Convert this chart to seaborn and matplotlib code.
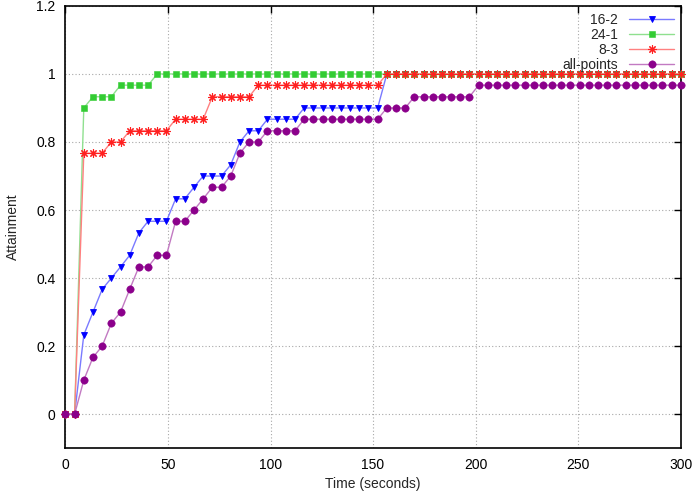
import matplotlib
matplotlib.use("Agg")
import matplotlib.pyplot as plt
from matplotlib.lines import Line2D
import seaborn as sns

# sample times (seconds), evenly spaced 0..300
times = [
    0, 4.48, 8.96, 13.43, 17.91, 22.39, 26.87, 31.34, 35.82, 40.30,
    44.78, 49.25, 53.73, 58.21, 62.69, 67.16, 71.64, 76.12, 80.60, 85.07,
    89.55, 94.03, 98.51, 102.99, 107.46, 111.94, 116.42, 120.90, 125.37, 129.85,
    134.33, 138.81, 143.28, 147.76, 152.24, 156.72, 161.19, 165.67, 170.15, 174.63,
    179.10, 183.58, 188.06, 192.54, 197.01, 201.49, 205.97, 210.45, 214.93, 219.40,
    223.88, 228.36, 232.84, 237.31, 241.79, 246.27, 250.75, 255.22, 259.70, 264.18,
    268.66, 273.13, 277.61, 282.09, 286.57, 291.04, 295.52, 300,
]

att_16_2 = [
    0, 0, 0.233, 0.3, 0.367, 0.4, 0.433, 0.467, 0.533, 0.567,
    0.567, 0.567, 0.633, 0.633, 0.667, 0.7, 0.7, 0.7, 0.733, 0.8,
    0.833, 0.833, 0.867, 0.867, 0.867, 0.867, 0.9, 0.9, 0.9, 0.9,
    0.9, 0.9, 0.9, 0.9, 0.9, 1, 1, 1, 1, 1,
    1, 1, 1, 1, 1, 1, 1, 1, 1, 1,
    1, 1, 1, 1, 1, 1, 1, 1, 1, 1,
    1, 1, 1, 1, 1, 1, 1, 1,
]

att_24_1 = [
    0, 0, 0.9, 0.933, 0.933, 0.933, 0.967, 0.967, 0.967, 0.967,
    1, 1, 1, 1, 1, 1, 1, 1, 1, 1,
    1, 1, 1, 1, 1, 1, 1, 1, 1, 1,
    1, 1, 1, 1, 1, 1, 1, 1, 1, 1,
    1, 1, 1, 1, 1, 1, 1, 1, 1, 1,
    1, 1, 1, 1, 1, 1, 1, 1, 1, 1,
    1, 1, 1, 1, 1, 1, 1, 1,
]

att_8_3 = [
    0, 0, 0.767, 0.767, 0.767, 0.8, 0.8, 0.833, 0.833, 0.833,
    0.833, 0.833, 0.867, 0.867, 0.867, 0.867, 0.933, 0.933, 0.933, 0.933,
    0.933, 0.967, 0.967, 0.967, 0.967, 0.967, 0.967, 0.967, 0.967, 0.967,
    0.967, 0.967, 0.967, 0.967, 0.967, 1, 1, 1, 1, 1,
    1, 1, 1, 1, 1, 1, 1, 1, 1, 1,
    1, 1, 1, 1, 1, 1, 1, 1, 1, 1,
    1, 1, 1, 1, 1, 1, 1, 1,
]

att_all = [
    0, 0, 0.1, 0.167, 0.2, 0.267, 0.3, 0.367, 0.433, 0.433,
    0.467, 0.467, 0.567, 0.567, 0.6, 0.633, 0.667, 0.667, 0.7, 0.767,
    0.8, 0.8, 0.833, 0.833, 0.833, 0.833, 0.867, 0.867, 0.867, 0.867,
    0.867, 0.867, 0.867, 0.867, 0.867, 0.9, 0.9, 0.9, 0.933, 0.933,
    0.933, 0.933, 0.933, 0.933, 0.933, 0.967, 0.967, 0.967, 0.967, 0.967,
    0.967, 0.967, 0.967, 0.967, 0.967, 0.967, 0.967, 0.967, 0.967, 0.967,
    0.967, 0.967, 0.967, 0.967, 0.967, 0.967, 0.967, 0.967,
]

series = [
    # label, values, line colour, marker colour, marker, size, edge width
    ("16-2", att_16_2, "#7a7aff", "#0000ff", "v", 5, 0.6),
    ("24-1", att_24_1, "#8fe08f", "#33cc33", "s", 4.8, 0.4),
    ("8-3", att_8_3, "#ff8080", "#ff2020", (8, 2, 0), 6, 0.8),
    ("all-points", att_all, "#c27ac2", "#8b008b", "o", 5.3, 0.4),
]

sns.set_theme(style="white")
plt.rcParams["font.family"] = ["Liberation Sans", "DejaVu Sans"]

fig = plt.figure(figsize=(6.96, 4.92), dpi=100)
ax = fig.add_axes([0.094, 0.089, 0.884, 0.899])

handles = []
for i, (lab, vals, lc, mc, mk, ms, mew) in enumerate(series):
    sns.lineplot(x=times, y=vals, ax=ax, color=lc, linewidth=1.0,
                 marker=mk, markersize=ms, markerfacecolor=mc,
                 markeredgecolor=mc, markeredgewidth=mew,
                 zorder=3 + i, clip_on=False)
    handles.append(Line2D([], [], color=lc, linewidth=1.0, marker=mk,
                          markersize=ms, markerfacecolor=mc,
                          markeredgecolor=mc, markeredgewidth=mew, label=lab))

ax.set_xlim(0, 300)
ax.set_ylim(-0.1, 1.2)
ax.set_xticks([0, 50, 100, 150, 200, 250, 300])
ax.set_yticks([0, 0.2, 0.4, 0.6, 0.8, 1.0, 1.2])
ax.set_yticklabels(["0", "0.2", "0.4", "0.6", "0.8", "1", "1.2"])
ax.tick_params(direction="in", length=5, width=1, top=True, right=True,
               labelsize=10, colors="black", pad=7)
ax.grid(True, color="#a8a8a8", linestyle=(0, (1, 2)), linewidth=0.8)
for sp in ax.spines.values():
    sp.set_color("black")
    sp.set_linewidth(1.2)

ax.set_xlabel("Time (seconds)", fontsize=10, labelpad=4)
ax.set_ylabel("Attainment", fontsize=10, labelpad=12)

ax.legend(handles=handles, loc="upper right", frameon=False, markerfirst=False,
          fontsize=10, handlelength=3.2, labelspacing=0.08, borderaxespad=0.3,
          borderpad=0.2, handletextpad=0.8)

fig.savefig("out.png", dpi=100)
